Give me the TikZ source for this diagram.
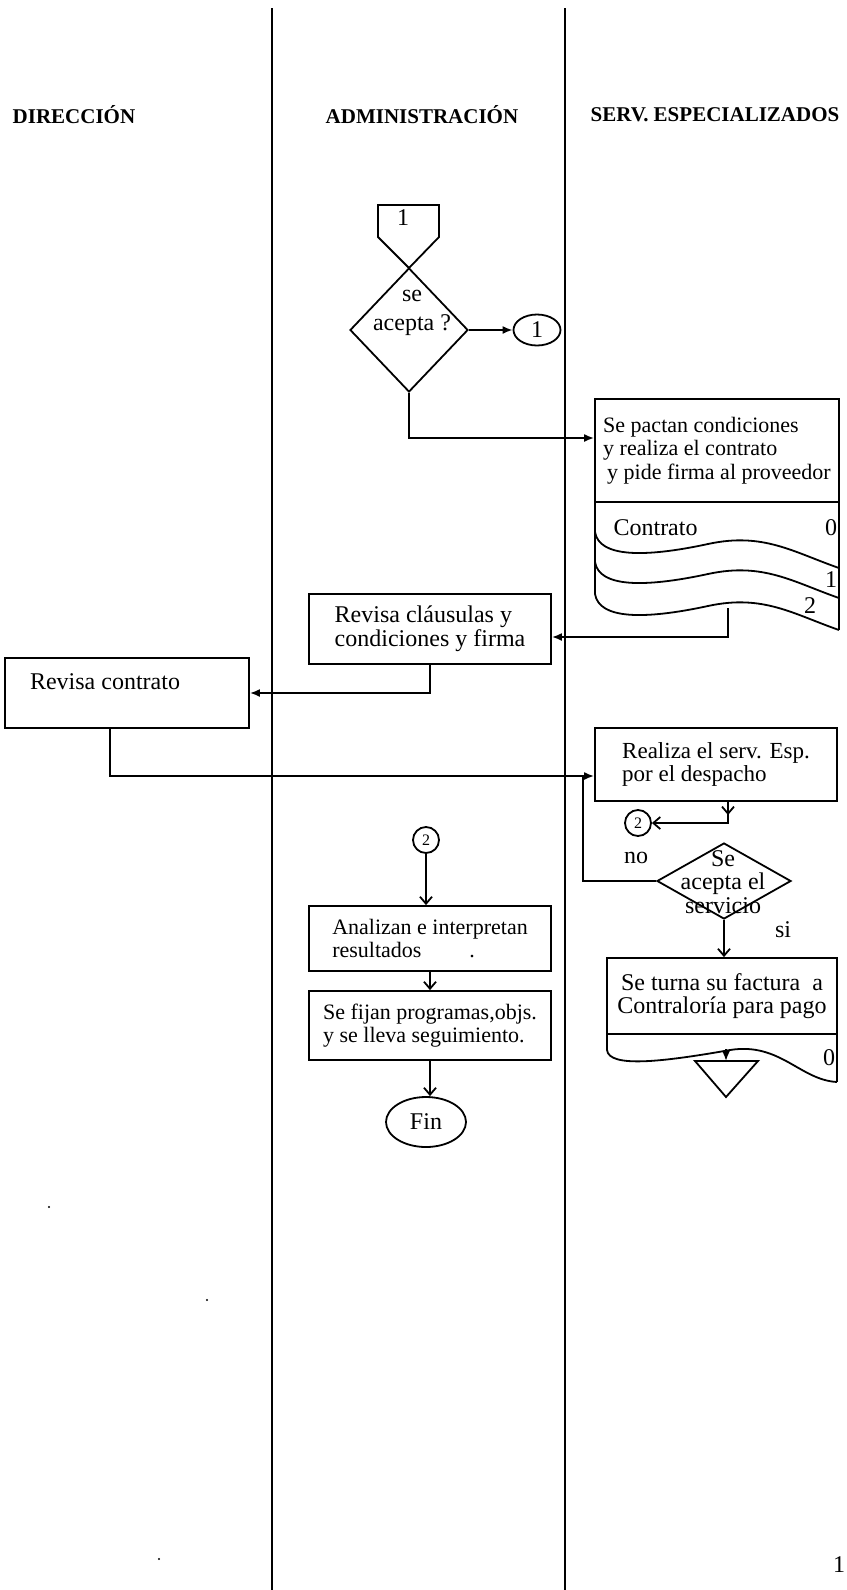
\documentclass[tikz,border=0pt]{standalone}
\usepackage{fontspec}
\setmainfont{Liberation Serif}
\usetikzlibrary{shapes.geometric,arrows.meta}

\begin{document}
\begin{tikzpicture}[%
		x=0.5pt,y=-0.5pt,
		line width=0.9pt,
		font=\fontsize{12}{11.8}\selectfont,
		small/.style={font=\fontsize{11}{11.8}\selectfont},%
		lane/.style={line width=1.1pt},%
		head/.style={font=\fontsize{10.5}{12}\selectfont\bfseries},%
		box/.style={%
			draw,%
			rectangle,%
			align=left,%
			inner sep=0pt},%
		rhomb/.style={%
			draw,%
			diamond,%
			inner sep=0pt},%
		conn/.style={%
			draw,%
			circle,%
			inner sep=0pt,%
			font=\fontsize{8}{8}\selectfont},%
		term/.style={%
			draw,%
			ellipse,%
			inner sep=0pt},%
		arr/.style={-{Latex[length=5pt,width=4pt]}},%
		varr/.style={-{Straight Barb[length=3.5pt,width=6pt]}}
		]

		\useasboundingbox (0,0) rectangle (846,1590);

		% lanes
		\draw[lane] (272,8)--(272,1590);
		\draw[lane] (565,8)--(565,1590);
		\node[head] (hdir) at (74,115) {DIRECCIÓN};
		\node[head] (hadm) at (422,115) {ADMINISTRACIÓN};
		\node[head] (hserv) at (715,115) {SERV. ESPECIALIZADOS};

		% off page connector and first decision
		\draw (378,205)--(439,205)--(439,237)--(409,268)--(378,237)--cycle;
		\node (off1) at (403,218) {1};
		\node[rhomb,minimum width=59pt,minimum height=62pt] (acep) at (409,330) {};
		\node[align=center] (aceptxt) at (412,313) {se\\[3pt]acepta ?};
		\node[term,minimum width=23.5pt,minimum height=15.5pt] (c1) at (537,330) {1};
		\draw[arr] (acep.east)--(c1.west);

		% contract (multi document)
		\node[box,small,minimum width=122pt,minimum height=51.5pt] (pacta) at (717,450.5)
			{Se pactan condiciones\\y realiza el contrato\\\kern2pt y pide firma al proveedor};
		\coordinate (a1) at (409,438);
		\draw[arr] (acep.south)--(a1)--(a1-|pacta.west);
		\draw (595,502)--(595,594);
		\draw (839,502)--(839,630);
		\foreach \yb in {532,562,594}
			\draw (595,\yb) .. controls (599,\yb+25) and (643,\yb+26) .. (708,\yb+12)
				.. controls (763,\yb) and (793,\yb+20) .. (839,\yb+36);
		\node[anchor=west] (contrato) at (606,528) {Contrato};
		\node (n0) at (831,528) {0};
		\node (n1) at (831,580) {1};
		\node (n2) at (810,606) {2};
		\coordinate (d3) at (728,608);

		% review
		\node[box,minimum width=121pt,minimum height=35pt] (claus) at (430,629)
			{Revisa cláusulas y\\condiciones y firma};
		\draw[arr] (d3)|-([yshift=-4pt]claus.east);
		\node[box,minimum width=122pt,minimum height=35pt] (contr) at (127,693)
			{Revisa contrato\hspace*{22pt}\\\mbox{}};
		\draw[arr] (claus.south)|-(contr.east);

		% service
		\node[box,font=\fontsize{11.5}{11.8}\selectfont,minimum width=121pt,minimum height=36.5pt] (realiza) at (716,764.5)
			{Realiza el serv. Esp.\\por el despacho};
		\coordinate (jn) at (583,776);
		\draw[arr] ([xshift=-8.5pt]contr.south)|-(jn)--(jn-|realiza.west);
		\node[conn,minimum size=13pt] (c2) at (638,823) {2};
		\coordinate (r1) at (728,801);
		\draw[varr] (r1)--++(0,14);
		\draw[varr] (r1)|-(c2);
		\node[rhomb,minimum width=67pt,minimum height=38pt] (serv) at (724,881) {};
		\node[align=center] (servtxt) at (723,882) {Se\\acepta el\\servicio};
		\node (no) at (636,858) {no};
		\draw (serv.west)-|(jn);
		\node (si) at (783,930) {si};

		% invoice
		\node[box,minimum width=115pt,minimum height=38pt,align=center] (turna) at (722,996)
			{Se turna su factura\ \ a\\Contraloría para pago};
		\draw[varr] (serv.south)--(turna.north-|serv.south);
		\draw (607,1034)--(607,1050);
		\draw (837,1034)--(837,1082);
		\draw (607,1050) .. controls (609,1068) and (662,1062) .. (730,1050)
			.. controls (780,1042) and (800,1080) .. (837,1082);
		\node (n0b) at (829,1058) {0};
		\draw (695,1061)--(758,1061)--(726,1097)--cycle;
		\coordinate (tri) at (726,1061);
		\draw[arr] (726,1049)--(tri);

		% results
		\node[conn,minimum size=13pt] (c2b) at (426,840) {2};
		\node[box,small,minimum width=121pt,minimum height=32.5pt] (ana) at (430,938.5)
			{Analizan e interpretan\\resultados\hspace{24pt}.};
		\draw[varr] (c2b.south)--(c2b.south|-ana.north);
		\node[box,small,minimum width=121pt,minimum height=34.5pt] (fijan) at (430,1025.5)
			{Se fijan programas,objs.\\y se lleva seguimiento.};
		\draw[varr] (ana.south)--(fijan.north);
		\node[term,minimum width=40pt,minimum height=25pt] (fin) at (426,1122) {Fin};
		\draw[varr] (fijan.south)--(fijan.south|-fin.north);

		% stray marks and page number
		\fill (49,1207) circle (0.6pt);
		\fill (207,1300) circle (0.6pt);
		\fill (159,1559) circle (0.6pt);
		\node[anchor=east,inner sep=0pt] (pag) at (846,1565) {1};
	\end{tikzpicture}
\end{document}
